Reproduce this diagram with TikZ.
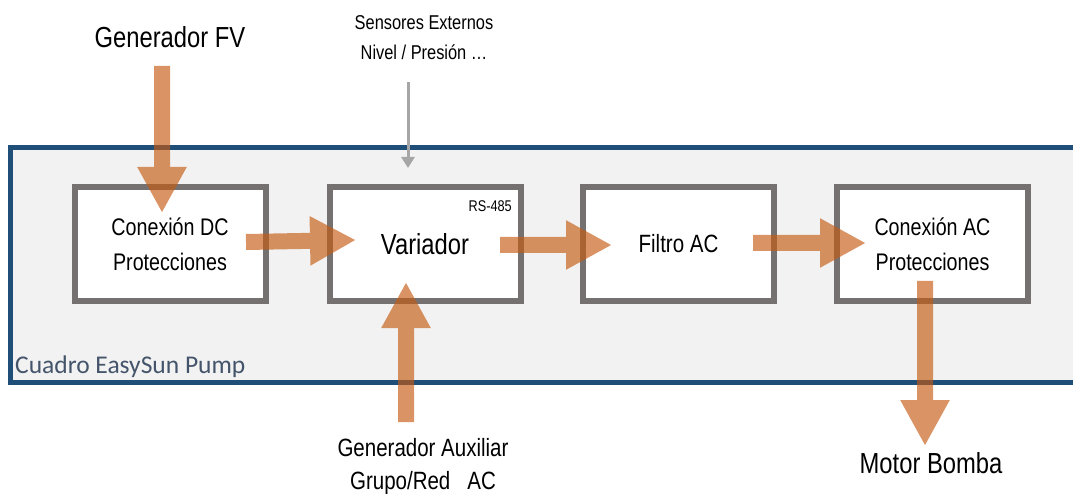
\documentclass[tikz,border=0pt]{standalone}
\usepackage{fontspec}
\setmainfont{Liberation Sans}[FakeStretch=0.82]
\newfontfamily\carlitofont{Carlito}
\usetikzlibrary{arrows.meta}
\definecolor{frameblue}{HTML}{1F4E79}
\definecolor{panelgray}{HTML}{F2F2F2}
\definecolor{boxgray}{HTML}{767171}
\definecolor{arroworange}{HTML}{C55A11}
\definecolor{sensgray}{HTML}{A6A6A6}
\definecolor{labelblue}{HTML}{44546A}
\begin{document}
\begin{tikzpicture}[x=1pt,y=-1pt,
  blockbox/.style={draw=boxgray, line width=6pt, fill=white, minimum width=191pt,
    minimum height=114pt, inner sep=0pt, align=center,
    font=\fontsize{24}{35}\selectfont},
  powerarrow/.style={draw=arroworange, line width=16pt,
    -{Triangle[length=46pt,width=46pt]}},
  signalarrow/.style={draw=sensgray, line width=3pt,
    -{Triangle[length=11pt,width=13pt]}},
  plaintext/.style={inner sep=0pt, text=black},
]
\useasboundingbox (0,0) rectangle (1073,494);
\fill[white] (0,0) rectangle (1073,494);
% panel
\draw[frameblue, line width=5pt, fill=panelgray] (10.5,147.5) rectangle (1095,382.5);
\node[plaintext, anchor=base west, text=labelblue,
  font=\carlitofont\fontsize{25.5}{30}\selectfont] (cuadro) at (15,373) {Cuadro EasySun Pump};
% boxes
\node[blockbox] (dc) at (170,244) {Conexión DC\\Protecciones};
\node[blockbox, font=\fontsize{29}{35}\selectfont] (var) at (425,244) {Variador};
\node[blockbox, font=\fontsize{25}{35}\selectfont] (fil) at (678.5,244) {Filtro AC};
\node[blockbox] (ac) at (932.5,244) {Conexión AC\\Protecciones};
\node[plaintext, anchor=base east, font=\fontsize{15.5}{18}\selectfont] (rs) at (512,212) {RS-485};
% outer texts
\node[plaintext, anchor=base, font=\fontsize{29}{35}\selectfont] (fv) at (170,48) {Generador FV};
\node[plaintext, align=center, font=\fontsize{20}{30}\selectfont] (sens) at (424,38) {Sensores Externos\\Nivel / Presión \dots};
\node[plaintext, align=center, font=\fontsize{25}{33}\selectfont] (aux) at (423,467) {Generador Auxiliar\\Grupo/Red\ \ \ AC};
\node[plaintext, anchor=base, font=\fontsize{29}{35}\selectfont] (motor) at (931,473) {Motor Bomba};
% arrow end points
\coordinate (fvtail) at (162,66);
\coordinate (fvtip) at (162,213);
\coordinate (dcout) at (246,242);
\coordinate (varin) at (356,240);
\coordinate (varout) at (500,245);
\coordinate (filin) at (612,245);
\coordinate (filout) at (753,243);
\coordinate (acin) at (866,243);
\coordinate (auxtail) at (406,422);
\coordinate (auxtip) at (406,282);
\coordinate (acdown) at (925,281);
\coordinate (motortip) at (925,446);
\coordinate (senstail) at (408,82);
\coordinate (senstip) at (408,168);
\draw[signalarrow] (senstail) -- (senstip);
\begin{scope}[transparency group, opacity=0.65]
  \draw[powerarrow] (fvtail) -- (fvtip);
  \draw[powerarrow] (dcout) -- (varin);
  \draw[powerarrow] (varout) -- (filin);
  \draw[powerarrow] (filout) -- (acin);
  \draw[powerarrow] (auxtail) -- (auxtip);
  \draw[powerarrow] (acdown) -- (motortip);
\end{scope}
\end{tikzpicture}
\end{document}
